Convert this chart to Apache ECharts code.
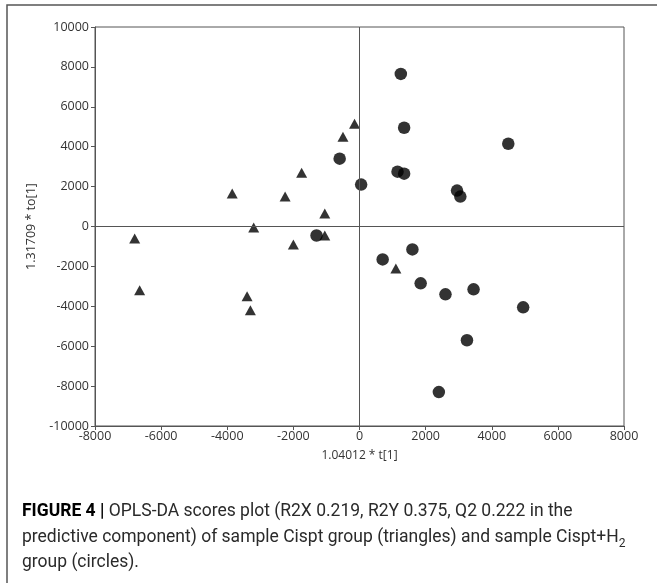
<!DOCTYPE html>
<html>
<head>
<meta charset="utf-8">
<script src="https://cdn.jsdelivr.net/npm/echarts@6/dist/echarts.min.js"></script>
<style>
  html, body { margin: 0; padding: 0; background: #fff; }
  #chart { width: 657px; height: 583px; }
</style>
</head>
<body>
<div id="chart"></div>
<script>
// Cispt group (triangles), [t, to]
var cisptPoints = [
  [-6800, -600], [-6650, -3200], [-3850, 1650], [-3400, -3500],
  [-3300, -4200], [-3200, -50], [-2250, 1500], [-2000, -900],
  [-1750, 2700], [-1050, 650], [-1050, -450], [-500, 4500],
  [-150, 5150], [1100, -2100]
];
// Cispt+H2 group (circles)
var cisptH2Points = [
  [-1300, -450], [1250, 7650], [1350, 4950], [4500, 4150],
  [-600, 3400], [1150, 2750], [1350, 2650], [50, 2100],
  [2950, 1800], [3050, 1500], [700, -1650], [1600, -1150],
  [1850, -2850], [2600, -3400], [3450, -3150], [4950, -4050],
  [3250, -5700], [2400, -8300]
];
var xName = '1.04012 * t[1]';
var yName = '1.31709 * to[1]';

var chart = echarts.init(document.getElementById('chart'));
var axisCol = '#555';
var font = '"Open Sans", sans-serif';
var capFont = 'Roboto, sans-serif';

function plain(v) { return String(v); }

var option = {
  animation: false,
  backgroundColor: '#fff',
  grid: {
    left: 95, top: 27, right: 33, bottom: 157,
    show: true, borderColor: axisCol, borderWidth: 1
  },
  xAxis: {
    type: 'value', min: -8000, max: 8000, interval: 2000,
    name: xName, nameLocation: 'middle', nameGap: 24,
    nameTextStyle: { fontFamily: font, fontSize: 12, color: '#333' },
    axisLine: { show: true, onZero: false, lineStyle: { color: axisCol } },
    axisTick: { show: true, length: 4, lineStyle: { color: axisCol } },
    axisLabel: { fontFamily: font, fontSize: 12.5, color: '#333', margin: 4, formatter: plain },
    splitLine: { show: false }
  },
  yAxis: {
    type: 'value', min: -10000, max: 10000, interval: 2000,
    name: yName, nameLocation: 'middle', nameGap: 47,
    nameTextStyle: { fontFamily: font, fontSize: 12.5, color: '#333' },
    axisLine: { show: true, onZero: false, lineStyle: { color: axisCol } },
    axisTick: { show: true, length: 4, lineStyle: { color: axisCol } },
    axisLabel: { fontFamily: font, fontSize: 12.5, color: '#333', margin: 6, formatter: plain },
    splitLine: { show: false }
  },
  series: [
    {
      name: 'Cispt',
      type: 'scatter',
      symbol: 'triangle',
      symbolSize: [11, 10],
      itemStyle: { color: '#000' },
      data: cisptPoints,
      markLine: {
        silent: true,
        symbol: 'none',
        label: { show: false },
        lineStyle: { color: axisCol, width: 1, type: 'solid' },
        data: [{ xAxis: 0 }, { yAxis: 0 }]
      }
    },
    {
      name: 'Cispt+H2',
      type: 'scatter',
      symbol: 'circle',
      symbolSize: 12.5,
      itemStyle: { color: '#000' },
      data: cisptH2Points
    }
  ],
  graphic: [
    {
      type: 'rect',
      shape: { x: 7, y: 5, width: 700, height: 640 },
      style: { fill: 'none', stroke: '#555', lineWidth: 1.5 },
      silent: true
    },
    {
      type: 'text', left: 22, top: 503,
      style: {
        text: '{b|FIGURE 4 |} OPLS-DA scores plot (R2X 0.219, R2Y 0.375, Q2 0.222 in the',
        fontFamily: capFont, fontSize: 17.5, fill: '#2a2a2a',
        rich: { b: { fontWeight: 'bold', fontFamily: capFont, fontSize: 17.5, fill: '#000' } }
      }
    },
    {
      type: 'text', left: 22, top: 529,
      style: {
        text: 'predictive component) of sample Cispt group (triangles) and sample Cispt+H{sub|2}',
        fontFamily: capFont, fontSize: 17.5, fill: '#2a2a2a',
        rich: { sub: { fontSize: 12, fontFamily: capFont, padding: [11, 0, 0, 0] } }
      }
    },
    {
      type: 'text', left: 22, top: 554,
      style: {
        text: 'group (circles).',
        fontFamily: capFont, fontSize: 17.5, fill: '#2a2a2a'
      }
    }
  ]
};
chart.setOption(option);
</script>
</body>
</html>
